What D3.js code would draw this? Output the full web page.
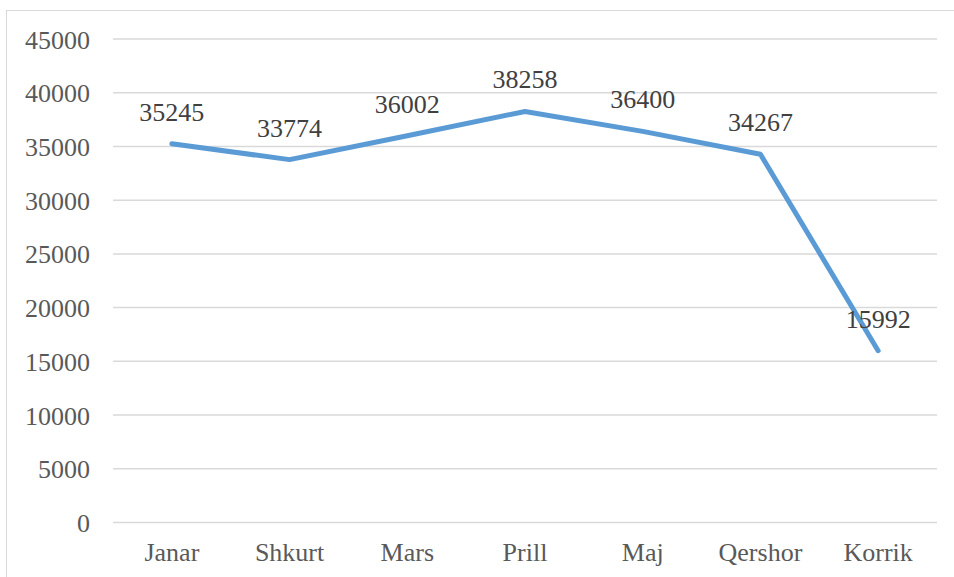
<!DOCTYPE html>
<html>
<head>
<meta charset="utf-8">
<script src="https://cdn.jsdelivr.net/npm/d3@7"></script>
<style>
  html, body { margin: 0; padding: 0; background: #fff; }
  svg { display: block; }
  svg text { font-family: "Liberation Serif", "Times New Roman", Times, "DejaVu Serif", serif !important; }
</style>
</head>
<body>
<svg id="chart" width="954" height="577"></svg>
<script>
const categories = ["Janar", "Shkurt", "Mars", "Prill", "Maj", "Qershor", "Korrik"];
const values = [35245, 33774, 36002, 38258, 36400, 34267, 15992];
const yTicks = [0, 5000, 10000, 15000, 20000, 25000, 30000, 35000, 40000, 45000];

(function () {
const svg = d3.select("#chart");
const mLeft = 113, mRight = 937, mTop = 39, mBottom = 522.5;

svg.append("rect")
  .attr("x", 6.5).attr("y", 10.5)
  .attr("width", 960).attr("height", 600)
  .attr("fill", "#fff").attr("stroke", "#d9d9d9").attr("stroke-width", 1);

const x = d3.scaleBand().domain(categories).range([mLeft, mRight]);
const y = d3.scaleLinear().domain([0, 45000]).range([mBottom, mTop]);

// gridlines
svg.append("g").selectAll("line").data(yTicks).join("line")
  .attr("x1", mLeft).attr("x2", mRight)
  .attr("y1", d => y(d)).attr("y2", d => y(d))
  .attr("stroke", "#d9d9d9").attr("stroke-width", 1.5);

// y axis labels
const yAxis = d3.axisLeft(y).tickValues(yTicks).tickSize(0).tickPadding(0).tickFormat(d3.format("d"));
const gy = svg.append("g").attr("transform", "translate(90,0)").call(yAxis);
gy.select(".domain").remove();
gy.selectAll("text")
  .attr("font-size", 26).attr("fill", "#595959")
  .attr("dy", null).attr("y", 9);

// x axis labels
const xAxis = d3.axisBottom(x).tickSize(0).tickPadding(0);
const gx = svg.append("g").attr("transform", "translate(0,561)").call(xAxis);
gx.select(".domain").remove();
gx.selectAll("text")
  .attr("font-size", 26).attr("fill", "#595959")
  .attr("dy", null).attr("y", 0);

const cx = d => x(d) + x.bandwidth() / 2;

// line
const line = d3.line().x((d, i) => cx(categories[i])).y(d => y(d));
svg.append("path").datum(values)
  .attr("d", line)
  .attr("fill", "none").attr("stroke", "#5b9bd5")
  .attr("stroke-width", 5).attr("stroke-linecap", "round").attr("stroke-linejoin", "round");

// data labels
svg.append("g").selectAll("text").data(values).join("text")
  .attr("x", (d, i) => cx(categories[i]))
  .attr("y", d => y(d) - 23)
  .attr("text-anchor", "middle")
  .attr("font-size", 26).attr("fill", "#404040")
  .text(d => d);
})();
</script>
</body>
</html>
